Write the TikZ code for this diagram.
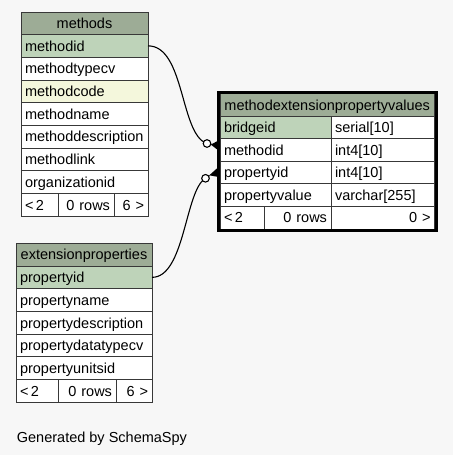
\documentclass[tikz,border=0pt]{standalone}
\usepackage{fontspec}
\setmainfont{Liberation Sans}
\usetikzlibrary{calc}
\definecolor{bg}{RGB}{247,247,247}
\definecolor{hdr}{RGB}{157,172,150}
\definecolor{keyc}{RGB}{190,211,185}
\definecolor{idxc}{RGB}{244,247,220}
\newcommand{\fsz}{\fontsize{14.5}{17}\selectfont}
\begin{document}
\begin{tikzpicture}[x=1pt,y=-1pt,
  cell/.style={draw=black!78, line width=0.8pt, anchor=north west, inner xsep=4pt, inner ysep=0pt,
    outer sep=0pt, text height=12.5pt, text depth=2pt, font=\fsz, align=left, fill=white,
    minimum height=22.7pt},
  hcell/.style={cell, fill=hdr, align=center, minimum height=22.5pt},
  kcell/.style={cell, fill=keyc},
  icell/.style={cell, fill=idxc},
  rcell/.style={cell, align=right},
  edge/.style={line width=1.1pt, black},
  crowfoot/.style={fill=black},
  odot/.style={draw=black, line width=1.1pt, fill=white}]
\fill[bg] (0,0) rectangle (453,455);
\useasboundingbox (0,0) rectangle (453,455);

% ---- methods
\node[hcell, text width=119pt] (m-h) at (21,12) {methods};
\node[kcell, text width=119pt] (m-id) at (21,34.5) {methodid};
\node[cell, text width=119pt] (m-type) at (21,57.2) {methodtypecv};
\node[icell, text width=119pt] (m-code) at (21,79.9) {methodcode};
\node[cell, text width=119pt] (m-name) at (21,102.6) {methodname};
\node[cell, text width=119pt] (m-desc) at (21,125.3) {methoddescription};
\node[cell, text width=119pt] (m-link) at (21,148) {methodlink};
\node[cell, text width=119pt] (m-org) at (21,170.7) {organizationid};
\node[cell, text width=29pt] (m-f1) at (21,193.4) {<\,2};
\node[rcell, text width=48pt] (m-f2) at (58,193.4) {0 rows};
\node[rcell, text width=26pt] (m-f3) at (114,193.4) {6 >};

% ---- extensionproperties
\node[hcell, text width=128pt, minimum height=23pt] (e-h) at (16,243) {extensionproperties};
\node[kcell, text width=128pt] (e-id) at (16,266) {propertyid};
\node[cell, text width=128pt] (e-name) at (16,288.7) {propertyname};
\node[cell, text width=128pt] (e-desc) at (16,311.4) {propertydescription};
\node[cell, text width=128pt] (e-type) at (16,334.1) {propertydatatypecv};
\node[cell, text width=128pt] (e-unit) at (16,356.8) {propertyunitsid};
\node[cell, text width=34pt] (e-f1) at (16,379.5) {<\,2};
\node[rcell, text width=50pt] (e-f2) at (58,379.5) {0 rows};
\node[rcell, text width=28pt] (e-f3) at (116,379.5) {6 >};

% ---- methodextensionpropertyvalues
\node[hcell, text width=206.5pt] (v-h) at (220,93.5) {methodextensionpropertyvalues};
\node[kcell, text width=103pt, minimum height=22.6pt] (v-bid) at (220,116) {bridgeid};
\node[cell, text width=95.5pt, minimum height=22.6pt] (v-bidt) at (331,116) {serial[10]};
\node[cell, text width=103pt, minimum height=22.6pt] (v-mid) at (220,138.6) {methodid};
\node[cell, text width=95.5pt, minimum height=22.6pt] (v-midt) at (331,138.6) {int4[10]};
\node[cell, text width=103pt, minimum height=22.6pt] (v-pid) at (220,161.2) {propertyid};
\node[cell, text width=95.5pt, minimum height=22.6pt] (v-pidt) at (331,161.2) {int4[10]};
\node[cell, text width=103pt, minimum height=22.6pt] (v-pv) at (220,183.8) {propertyvalue};
\node[cell, text width=95.5pt, minimum height=22.6pt] (v-pvt) at (331,183.8) {varchar[255]};
\node[cell, text width=36pt, minimum height=22.6pt] (v-f1) at (220,206.4) {<\,2};
\node[rcell, text width=59pt, minimum height=22.6pt] (v-f2) at (264,206.4) {0 rows};
\node[rcell, text width=95.5pt, minimum height=22.6pt] (v-f3) at (331,206.4) {0 >};

% ---- connectors
\coordinate (c1) at (207,143.5);
\coordinate (c2) at (205.5,178.3);
\draw[edge] (m-id.east) .. controls (185,45.8) and (180,135) .. (c1);
\draw[edge] (c1) -- (211,145);
\fill[crowfoot] (210.8,144.6) -- (218.5,140.5) -- (218.5,150.5) -- cycle;
\draw[odot] (c1) circle (3.8);

\draw[edge] (e-id.east) .. controls (185,277.3) and (185,190) .. (c2);
\draw[edge] (c2) -- (209.5,175.5);
\fill[crowfoot] (209.3,175.3) -- (218.5,167) -- (218.5,177) -- cycle;
\draw[odot] (c2) circle (3.8);

% frame of the focus table
\draw[line width=3pt, black] ($(v-h.north west)+(-1.5,-1.5)$) rectangle ($(v-f3.south east)+(1.5,1.5)$);

\node[anchor=base west, inner sep=0pt, font=\fsz] (gen) at (16.7,442.3) {Generated by SchemaSpy};
\end{tikzpicture}
\end{document}
